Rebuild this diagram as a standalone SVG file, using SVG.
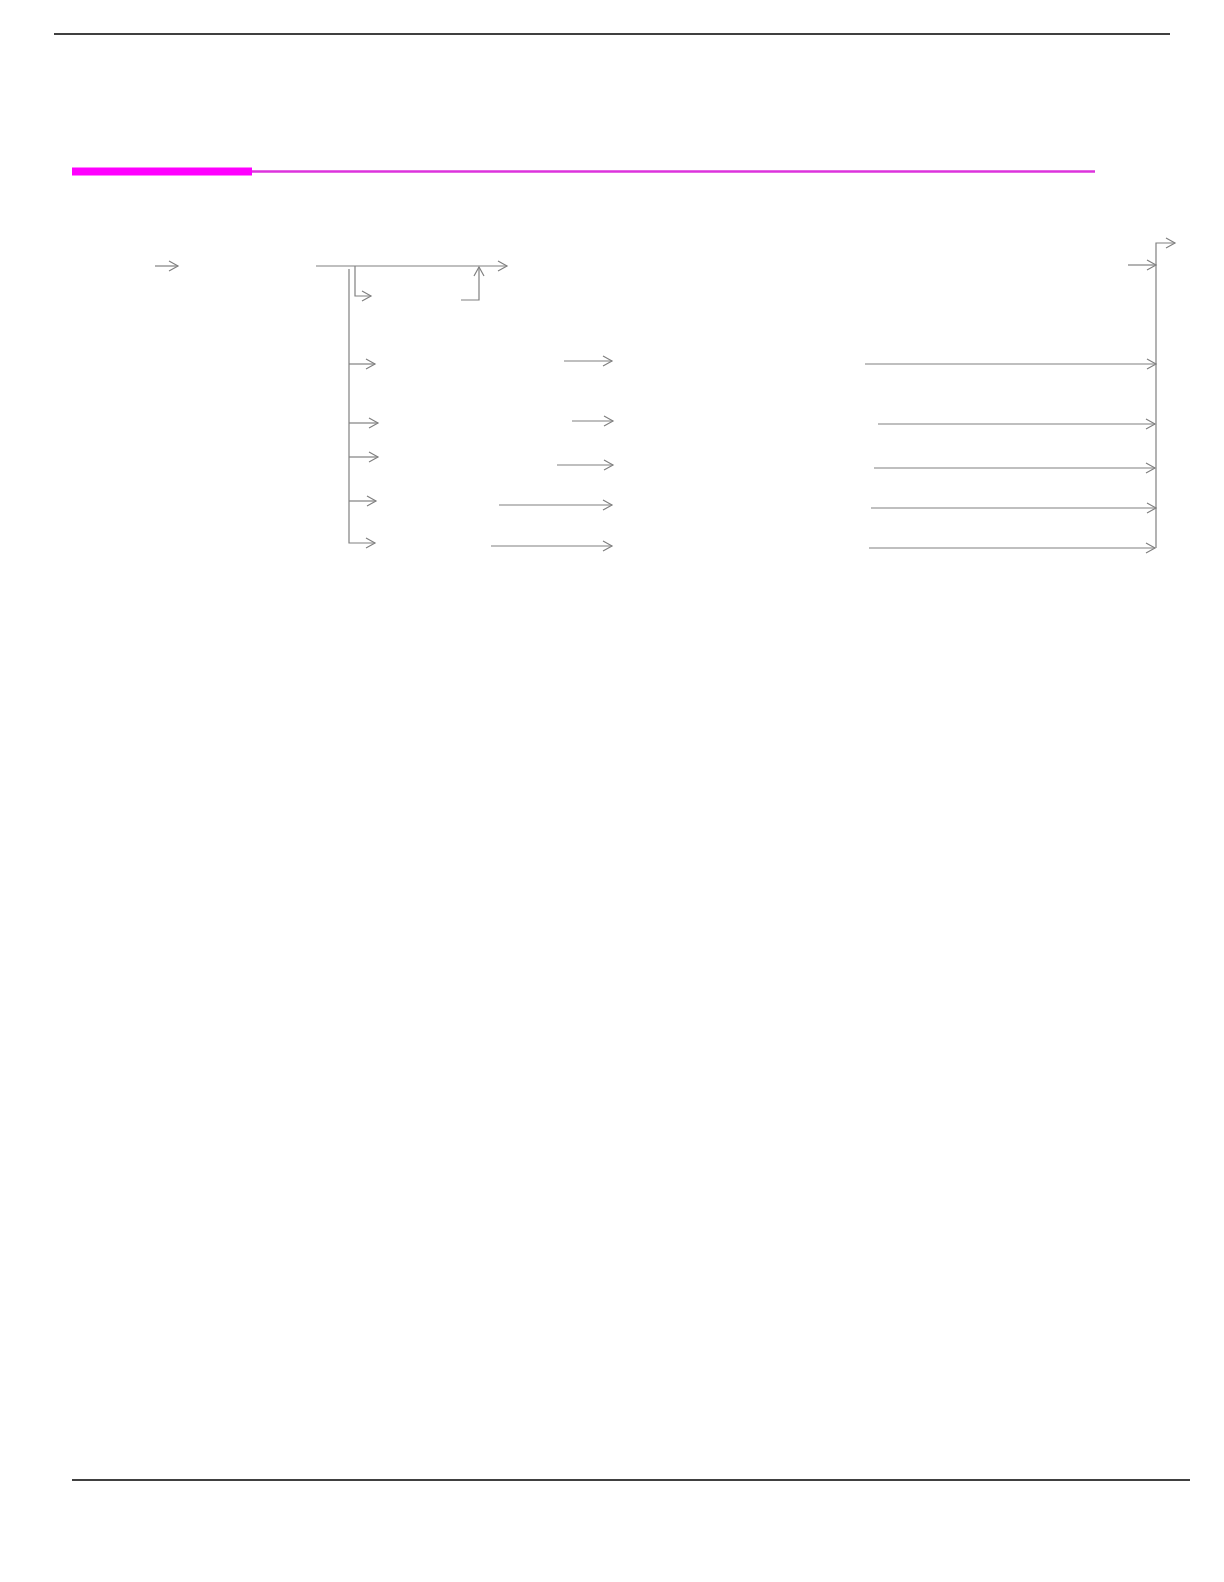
<svg xmlns="http://www.w3.org/2000/svg" width="1224" height="1582" viewBox="0 0 1224 1582">
<style>
.c{fill:none;stroke:#808080;stroke-width:1.2}
.a{marker-end:url(#ah)}
</style>
<defs>
<marker id="ah" markerUnits="userSpaceOnUse" markerWidth="14" markerHeight="14" refX="12" refY="7" orient="auto" overflow="visible">
<path d="M3,2 L12,7 L3,12" fill="none" stroke="#808080" stroke-width="1.2"/>
</marker>
</defs>
<rect width="1224" height="1582" fill="#ffffff"/>
<g id="page-frame">
<line x1="54" y1="34" x2="1170" y2="34" stroke="#000" stroke-width="1.4"/>
<rect x="72" y="167.5" width="180" height="8" fill="#ff00ff"/>
<line x1="252" y1="171.5" x2="1095" y2="171.5" stroke="#dd33dd" stroke-width="2.4"/>
<line x1="72" y1="1480" x2="1190" y2="1480" stroke="#000" stroke-width="1.4"/>
</g>
<g id="connectors">
<path class="c a" d="M155,266 H178"/>
<path class="c a" d="M316,266 H507"/>
<path class="c a" d="M355,266 V296 H371"/>
<path class="c a" d="M461,300 H479 V267"/>
<path class="c a" d="M349,269 V543 H375"/>
<path class="c a" d="M349,364 H375"/>
<path class="c a" d="M349,423 H378"/>
<path class="c a" d="M349,457 H378"/>
<path class="c a" d="M349,501 H376"/>
<path class="c a" d="M564,361 H612"/>
<path class="c a" d="M572,421 H613"/>
<path class="c a" d="M557,465 H613"/>
<path class="c a" d="M499,505 H612"/>
<path class="c a" d="M491,546 H612"/>
<path class="c a" d="M865,364 H1156"/>
<path class="c a" d="M878,424 H1155"/>
<path class="c a" d="M874,468 H1155"/>
<path class="c a" d="M871,508 H1156"/>
<path class="c a" d="M869,548 H1155"/>
<path class="c a" d="M1128,265 H1156"/>
<path class="c a" d="M1156,548 V243 H1175"/>
</g>
</svg>
